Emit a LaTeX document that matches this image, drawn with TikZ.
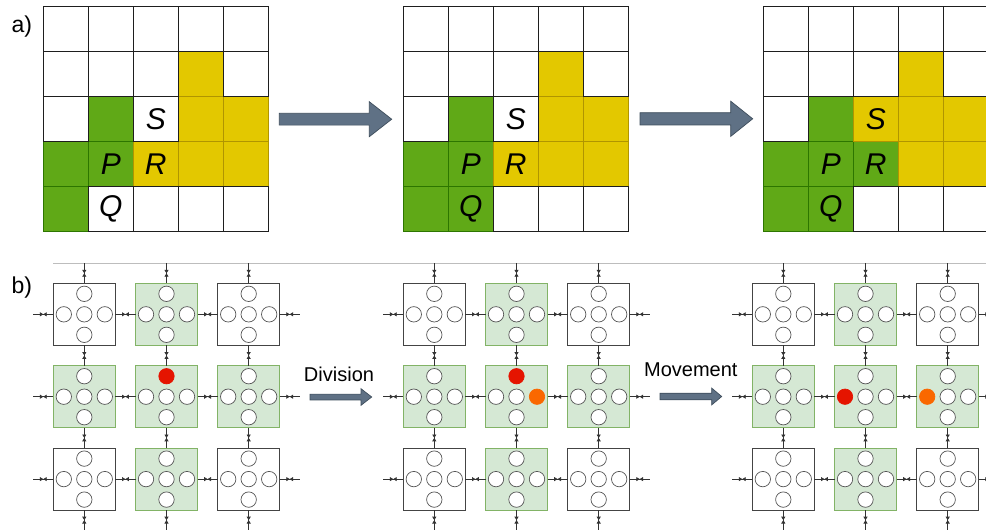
\documentclass[tikz,border=0pt]{standalone}
\usepackage{fontspec}
\setmainfont{Liberation Sans}
\usetikzlibrary{arrows.meta,decorations.markings}
\definecolor{greenF}{HTML}{60A917}
\definecolor{greenD}{HTML}{2D7600}
\definecolor{yellowF}{HTML}{E3C800}
\definecolor{yellowD}{HTML}{B09500}
\definecolor{gridC}{HTML}{1E1E1E}
\definecolor{lgF}{HTML}{D5E8D4}
\definecolor{lgD}{HTML}{82B366}
\definecolor{wline}{HTML}{444444}
\definecolor{circline}{HTML}{555555}
\definecolor{connC}{HTML}{333333}
\definecolor{redF}{HTML}{E51400}
\definecolor{orangeF}{HTML}{FA6800}
\definecolor{arrF}{HTML}{5F7185}
\definecolor{arrD}{HTML}{3E4D5C}
\definecolor{sepC}{HTML}{BDBDBD}
\tikzset{
  cellW/.style={draw=gridC, fill=white, line width=1.1pt, minimum size=45pt, inner sep=0pt, outer sep=0pt},
  cellG/.style={cellW, draw=greenD, fill=greenF},
  cellY/.style={cellW, draw=yellowD, fill=yellowF},
  letter/.style={font=\fontsize{30}{30}\selectfont\itshape, inner sep=0pt},
  box/.style={minimum size=62pt, inner sep=0pt, outer sep=0pt, line width=0.9pt},
  circ/.style={circle, minimum size=15.4pt, inner sep=0pt, outer sep=0pt, line width=0.7pt},
  conn/.style={draw=connC, line width=0.7pt,
    decoration={markings,
      mark=at position 0.5 with {\arrow{Triangle[length=3.4pt,width=4pt]}},
      mark=at position 0.5 with {\arrowreversed{Triangle[length=3.4pt,width=4pt]}}},
    postaction=decorate},
  blk/.style={fill=arrF, draw=arrD, line width=0.7pt, line join=miter},
  lbl/.style={font=\fontsize{20}{20}\selectfont, inner sep=0pt},
  plbl/.style={font=\fontsize{23}{23}\selectfont, inner sep=0pt, anchor=base west}
}
% grid of panel a
\newcommand\agrid[5]{%
  \foreach \c/\r in {#3} \node[cellG] (a#1-\c-\r) at ({#2+22.5+45*\c},{29.2+45*\r}) {};
  \foreach \c/\r in {#4} \node[cellY] (a#1-\c-\r) at ({#2+22.5+45*\c},{29.2+45*\r}) {};
  \foreach \c/\r in {#5} \node[cellW] (a#1-\c-\r) at ({#2+22.5+45*\c},{29.2+45*\r}) {};
  \node[letter] (a#1-S) at (a#1-2-2) {S};
  \node[letter] (a#1-P) at (a#1-1-3) {P};
  \node[letter] (a#1-R) at (a#1-2-3) {R};
  \node[letter] (a#1-Q) at (a#1-1-4) {Q};
}
% block arrow: x0, xhead, xtip, yc, half body, half head
\newcommand\blockarr[6]{%
  \draw[blk] (#1,#4-#5) -- (#2,#4-#5) -- (#2,#4-#6) -- (#3,#4) -- (#2,#4+#6) -- (#2,#4+#5) -- (#1,#4+#5) -- cycle;
}
% 3x3 group of panel b
\newcommand\cellgroup[2]{%
  \foreach \c/\r/\bf/\bd in {0/0/white/wline,1/0/lgF/lgD,2/0/white/wline,
                             0/1/lgF/lgD,1/1/lgF/lgD,2/1/lgF/lgD,
                             0/2/white/wline,1/2/lgF/lgD,2/2/white/wline} {
    \node[box, fill=\bf, draw=\bd] (b#1-\c-\r) at ({#2+82.2*\c},{314.3+82.4*\r}) {};
    \foreach \p/\dx/\dy in {C/0/0,N/0/-20.5,S/0/20.5,E/20.5/0,W/-20.5/0} {
      \edef\cf{\ifcsname cf-#1-\c-\r-\p\endcsname\csname cf-#1-\c-\r-\p\endcsname\else white\fi}%
      \edef\cd{\ifcsname cf-#1-\c-\r-\p\endcsname\csname cf-#1-\c-\r-\p\endcsname\else circline\fi}%
      \node[circ, fill=\cf, draw=\cd] (b#1-\c-\r-\p) at ([shift={(\dx,\dy)}]b#1-\c-\r.center) {};
    }
  }
  \foreach \r in {0,1,2} {
    \draw[conn] (b#1-0-\r.east) -- (b#1-1-\r.west);
    \draw[conn] (b#1-1-\r.east) -- (b#1-2-\r.west);
    \path (b#1-0-\r.west) ++(-20,0) coordinate (b#1-L\r);
    \draw[conn] (b#1-L\r) -- (b#1-0-\r.west);
    \path (b#1-2-\r.east) ++(20,0) coordinate (b#1-R\r);
    \draw[conn] (b#1-2-\r.east) -- (b#1-R\r);
  }
  \foreach \c in {0,1,2} {
    \draw[conn] (b#1-\c-0.south) -- (b#1-\c-1.north);
    \draw[conn] (b#1-\c-1.south) -- (b#1-\c-2.north);
    \path (b#1-\c-0.north) ++(0,-20) coordinate (b#1-T\c);
    \draw[conn] (b#1-T\c) -- (b#1-\c-0.north);
    \path (b#1-\c-2.south) ++(0,20) coordinate (b#1-B\c);
    \draw[conn] (b#1-\c-2.south) -- (b#1-B\c);
  }
}
\expandafter\def\csname cf-1-1-1-N\endcsname{redF}
\expandafter\def\csname cf-2-1-1-N\endcsname{redF}
\expandafter\def\csname cf-2-1-1-E\endcsname{orangeF}
\expandafter\def\csname cf-3-1-1-W\endcsname{redF}
\expandafter\def\csname cf-3-2-1-W\endcsname{orangeF}
\begin{document}
\begin{tikzpicture}[x=1pt,y=-1pt]
\useasboundingbox (0,0) rectangle (986,531);
\fill[white] (0,0) rectangle (986,531);

% ---------- panel a ----------
\node[plbl] (la) at (11.5,32) {a)};
\agrid{1}{43.3}{1/2,0/3,1/3,0/4}{3/1,3/2,4/2,2/3,3/3,4/3}
  {0/0,1/0,2/0,3/0,4/0,0/1,1/1,2/1,4/1,0/2,2/2,1/4,2/4,3/4,4/4}
\agrid{2}{403.3}{1/2,0/3,1/3,0/4,1/4}{3/1,3/2,4/2,2/3,3/3,4/3}
  {0/0,1/0,2/0,3/0,4/0,0/1,1/1,2/1,4/1,0/2,2/2,2/4,3/4,4/4}
\agrid{3}{763.3}{1/2,0/3,1/3,2/3,0/4,1/4}{3/1,2/2,3/2,4/2,3/3,4/3}
  {0/0,1/0,2/0,3/0,4/0,0/1,1/1,2/1,4/1,0/2,2/4,3/4,4/4}
\blockarr{279.3}{369.3}{391.7}{119.2}{5.9}{17.5}
\blockarr{640}{730.7}{752.7}{118.8}{6.1}{17.6}

% ---------- panel b ----------
\node[plbl] (lb) at (11.5,293) {b)};
\draw[sepC, line width=0.8pt] (53.3,263.3) -- (986,263.3);
\cellgroup{1}{84.3}
\cellgroup{2}{434.3}
\cellgroup{3}{783.3}
\node[lbl, anchor=base] (div) at (339,381) {Division};
\blockarr{310}{361}{371.7}{397}{2.9}{8.3}
\node[lbl, anchor=base] (mov) at (690.8,376.5) {Movement};
\blockarr{660}{711.7}{721.7}{396.5}{3.3}{8.4}
\end{tikzpicture}
\end{document}
